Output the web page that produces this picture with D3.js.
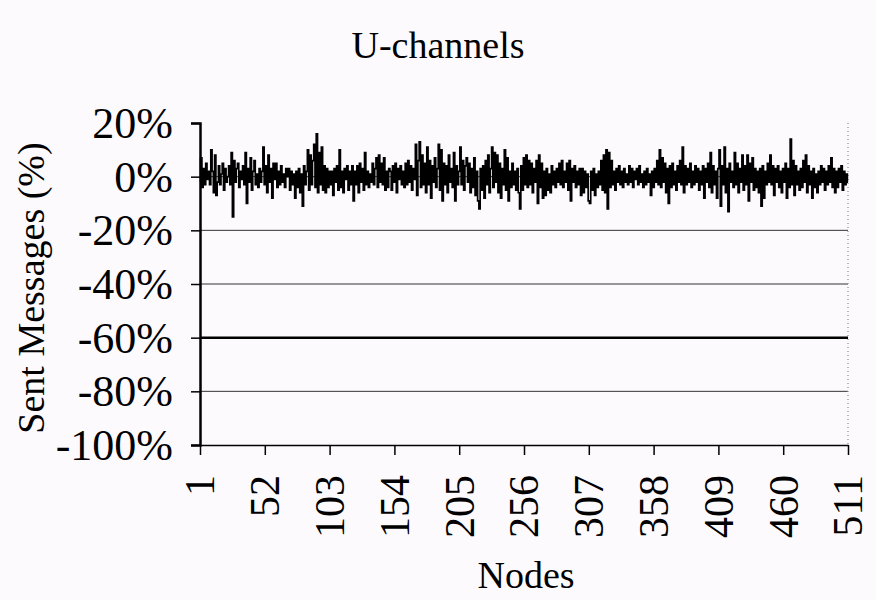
<!DOCTYPE html>
<html>
<head>
<meta charset="utf-8">
<script src="https://cdn.jsdelivr.net/npm/d3@7"></script>
<style>
  html, body { margin: 0; padding: 0; background: #fdfafd; }
  svg { display: block; }
  text { font-family: "Liberation Serif", "DejaVu Serif", serif; fill: #000; }
</style>
</head>
<body>
<svg id="chart" width="876" height="600"></svg>
<script>
const TITLE = "U-channels";
const Y_LABEL = "Sent Messages (%)";
const X_LABEL = "Nodes";

const X_TICKS = [1, 52, 103, 154, 205, 256, 307, 358, 409, 460, 511];
const Y_TICKS = [20, 0, -20, -40, -60, -80, -100];
const GRID_LINES = [0, -20, -40, -60, -80];

// sent-message deviation per node (%), nodes 1..511
const SENT = [
  -2, 7, -4, 3, -3, 5, -1, 2, -3, 10,
  2, -6, 8, -7, -2, 4, -3, 1, 5, -5,
  3, -2, 0, 4, -3, 9, -15, 6, -2, 3,
  5, -4, 2, -1, 4, -3, 9, -10, 3, -2,
  7, -5, 2, 6, -3, 1, -4, 3, -2, 2,
  11, -3, 4, -6, 8, -2, 3, -8, 5, -1,
  5, -4, 2, -3, 4, -2, 1, -4, 3, 0,
  3, -5, 2, -3, 1, -8, 2, -4, 3, -6,
  1, -11, 4, -3, 2, 10, -5, 8, -3, 6,
  12, -4, 16, -6, 9, -3, 11, -5, 4, -6,
  3, -4, 2, -3, 2, -7, 3, -2, 4, -5,
  10, -4, 2, -6, 3, -1, 4, -5, 2, -3,
  4, -9, 2, -3, 4, -6, 5, -2, 3, -5,
  9, -3, 2, -4, 1, -2, 5, -3, 3, 7,
  -4, 8, -2, 5, -3, 7, -5, 2, -4, 3,
  2, -5, 4, -2, 5, -6, 3, -1, 4, -3,
  2, -4, 5, -3, 6, -2, 4, -5, 3, -1,
  12, -7, 6, 13, -4, 8, -3, 5, -6, 11,
  -3, 6, -8, 4, -2, 7, -4, 3, 12, -5,
  10, -9, 5, -3, 4, -6, 8, -2, 3, -4,
  9, -9, 4, -3, 2, 11, -3, 6, -5, 4,
  7, -2, 5, -6, 3, -4, 7, -7, 2, -9,
  -12, 3, -5, 4, -8, 6, -3, 8, -6, 3,
  11, -4, 9, -2, 8, -6, 5, -8, 3, -3,
  10, -5, 7, -9, 2, -4, 5, -3, 2, -5,
  3, -6, -12, 4, -5, 7, -3, 8, -4, 6,
  -3, 5, -6, 3, -2, 6, -10, 8, -4, 5,
  -8, 2, -7, 3, -5, 1, -6, 4, -3, 2,
  -4, 3, -2, 5, -3, 6, -4, 2, -2, 5,
  -5, 6, -9, 3, -2, 4, -4, 2, -3, 3,
  -7, 3, -6, 2, -4, 1, -9, -10, 2, -5,
  3, -7, 1, -4, 2, -3, 6, -5, 8, -6,
  10, -12, 9, -4, 6, -3, 2, -5, 3, -2,
  4, -3, 2, -4, 3, -2, 1, -3, 4, -2,
  3, -4, 2, -1, 3, -3, 4, -2, 1, -4,
  2, -3, 3, -2, 1, -7, 2, -4, 3, -2,
  6, -3, 10, -4, 7, -2, 5, -6, 3, -10,
  4, -4, 5, -3, 2, -5, 4, -2, 6, -3,
  11, -6, 4, -3, 3, -2, 5, -4, 2, -3,
  4, -2, 3, -5, 2, -3, 4, -8, 3, -2,
  5, -4, 9, -6, 4, -3, 2, -8, 3, 10,
  -11, 4, -3, 11, -6, 3, -13, 5, -2, 2,
  -4, 9, -3, 5, -6, 3, -2, 8, -5, 4,
  -3, 8, -9, 5, -2, 7, -5, 3, -4, 2,
  -6, 3, -11, 4, -8, 2, -3, 5, -2, 8,
  -3, 4, -7, 3, -2, 4, -4, 2, -6, 3,
  -2, 5, -8, 3, -4, 14, -3, 6, -7, 4,
  -3, 2, -5, 3, -4, 6, -2, 8, -6, 4,
  -3, 2, -8, 3, -4, 1, -6, 2, -3, 4,
  -2, 3, -5, 2, -3, 4, -2, 7, -4, 3,
  -6, 2, -4, 3, -2, 4, -5, 2, -3, 1,
  -2
];

const svg = d3.select("#chart");
const plot = { left: 200, right: 848, top: 123, bottom: 445 };

const x = d3.scaleLinear().domain([1, 511]).range([plot.left, plot.right]);
const y = d3.scaleLinear().domain([-100, 20]).range([plot.bottom, plot.top]);

// grid lines
svg.append("g").selectAll("line")
  .data(GRID_LINES)
  .join("line")
  .attr("x1", plot.left).attr("x2", plot.right)
  .attr("y1", (d) => y(d)).attr("y2", (d) => y(d))
  .attr("stroke", (d) => (d === -60 ? "#000" : "#333"))
  .attr("stroke-width", (d) => (d === -60 ? 2.5 : 1));

// right border, faint dotted
svg.append("line")
  .attr("x1", plot.right).attr("x2", plot.right)
  .attr("y1", plot.top).attr("y2", plot.bottom)
  .attr("stroke", "#888").attr("stroke-width", 1.2)
  .attr("stroke-dasharray", "1,3");

// y axis
const yAxis = d3.axisLeft(y).tickValues(Y_TICKS).tickSize(9).tickFormat((d) => `${d}%`);
const yg = svg.append("g").attr("transform", `translate(${plot.left},0)`).call(yAxis);
yg.select(".domain").attr("stroke", "#000").attr("stroke-width", 2.5);
yg.selectAll(".tick line").attr("stroke", "#000").attr("stroke-width", 1.5);
yg.selectAll(".tick text")
  .attr("font-family", "Liberation Serif")
  .attr("font-size", 44)
  .attr("x", -27)
  .attr("dy", "0.33em");

// x axis
const xAxis = d3.axisBottom(x).tickValues(X_TICKS).tickSize(10).tickSizeOuter(0);
const xg = svg.append("g").attr("transform", `translate(0,${plot.bottom})`).call(xAxis);
xg.select(".domain").attr("stroke", "#000").attr("stroke-width", 1.5);
xg.selectAll(".tick line").attr("stroke", "#000").attr("stroke-width", 1.5);
xg.selectAll(".tick text")
  .attr("font-family", "Liberation Serif")
  .attr("font-size", 42)
  .attr("text-anchor", "end")
  .attr("transform", "rotate(-90)")
  .attr("x", -30)
  .attr("y", 0)
  .attr("dy", "0.33em");

// series
const line = d3.line()
  .x((d, i) => x(i + 1))
  .y((d) => y(d))
  .curve(d3.curveStep);

svg.append("path")
  .datum(SENT)
  .attr("fill", "none")
  .attr("stroke", "#000")
  .attr("stroke-width", 1.7)
  .attr("d", line);

// titles
svg.append("text")
  .attr("x", 438).attr("y", 58)
  .attr("text-anchor", "middle")
  .attr("font-size", 38)
  .text(TITLE);

svg.append("text")
  .attr("transform", `translate(44,${(y(20) + y(-100)) / 2 + 4}) rotate(-90)`)
  .attr("text-anchor", "middle")
  .attr("font-size", 38)
  .text(Y_LABEL);

svg.append("text")
  .attr("x", 526).attr("y", 588)
  .attr("text-anchor", "middle")
  .attr("font-size", 38)
  .text(X_LABEL);
</script>
</body>
</html>
